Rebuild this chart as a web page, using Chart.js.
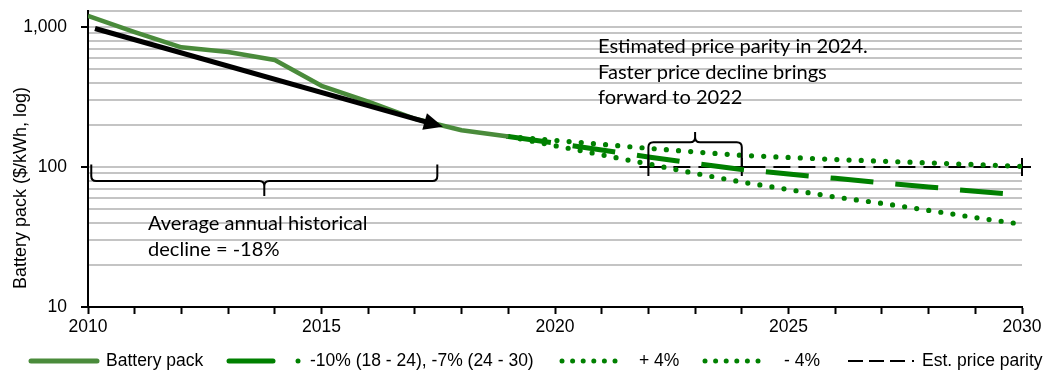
<!DOCTYPE html>
<html>
<head>
<meta charset="utf-8">
<script src="https://cdn.jsdelivr.net/npm/chart.js@4.4.0/dist/chart.umd.min.js"></script>
<style>
  html, body { margin: 0; padding: 0; background: #fff; }
  #wrap { width: 1053px; height: 371px; position: relative; }
</style>
</head>
<body>
<div id="wrap"><canvas id="chart" width="1053" height="371"></canvas></div>
<script>
// Battery pack price history and projections ($/kWh)
const histYears = [2010, 2011, 2012, 2013, 2014, 2015, 2016, 2017, 2018, 2019];
const histPrice = [1200, 920, 715, 663, 580, 380, 293, 221, 183, 165];

const projYears = [2019, 2020, 2021, 2022, 2023, 2024, 2025, 2026, 2027, 2028, 2029, 2030];
const centralPrice = [165, 148, 132, 118, 106, 96, 89, 83, 77, 72, 67, 63];
const upperPrice = [165, 155, 145, 136, 128, 121, 117, 113, 110, 107, 104, 101];
const lowerPrice = [165, 142, 122, 105, 90, 78, 69, 61, 55, 49, 43.5, 39];

const parityYears = [2022, 2024, 2030];
const parityPrice = [100, 100, 100];

const yTicks = [10, 20, 30, 40, 50, 60, 70, 80, 90, 100, 200, 300, 400, 500, 600, 700, 800, 900, 1000, 1300];
const yTickLabels = { 10: '10', 100: '100', 1000: '1,000' };
const xLabelYears = [2010, 2015, 2020, 2025, 2030];

// annotations (data units)
const trendFrom = [2010.15, 975];
const trendTo = [2017.6, 194];
const histBrace = { from: 2010.07, to: 2017.48, bar: 79.5, leg: 104, tip: 62 };
const parityBrace = { from: 2022, to: 2024, bar: 150, leg: 100, tip: 178 };

const noteParity = ['Estimated price parity in 2024.', 'Faster price decline brings', 'forward to 2022'];
const noteHist = ['Average annual historical', 'decline = -18%'];

const legendItems = ['Battery pack', '-10% (18 - 24), -7% (24 - 30)', '+ 4%', '- 4%', 'Est. price parity'];

const BATTERY = '#4a8b3b';
const GREEN = '#008000';

function hasFont(name) {
    const c = document.createElement('canvas').getContext('2d');
    c.font = '40px monospace';
    const a = c.measureText('Battery pack 2015').width;
    c.font = `40px "${name}", monospace`;
    const b = c.measureText('Battery pack 2015').width;
    return a !== b;
}
const narrow = hasFont('Liberation Sans Narrow');
const AX_FAMILY = narrow ? "'Liberation Sans Narrow'" : "'Liberation Sans', Arial";
const AX_SIZE = narrow ? 21 : 17.5;

const pts = (xs, ys) => xs.map((x, i) => ({ x: x, y: ys[i] }));

// Calibri-like notes: fit Lato to the measured widths
function noteFont(ctx) {
    ctx.font = "20px Lato";
    const w = ctx.measureText(noteParity[0]).width;
    return (20 * 270 / w).toFixed(2) + "px Lato";
}

function drawBrace(ctx, x1, x2, yBar, yLeg, yTip) {
    const xm = (x1 + x2) / 2, r = 5;
    const sL = Math.sign(yBar - yLeg), sT = Math.sign(yTip - yBar);
    ctx.beginPath();
    ctx.moveTo(x1, yLeg);
    ctx.lineTo(x1, yBar - sL * r);
    ctx.quadraticCurveTo(x1, yBar, x1 + r, yBar);
    ctx.lineTo(xm - r, yBar);
    ctx.quadraticCurveTo(xm, yBar, xm, yBar + sT * r);
    ctx.lineTo(xm, yTip);
    ctx.moveTo(xm, yBar + sT * r);
    ctx.quadraticCurveTo(xm, yBar, xm + r, yBar);
    ctx.lineTo(x2 - r, yBar);
    ctx.quadraticCurveTo(x2, yBar, x2, yBar - sL * r);
    ctx.lineTo(x2, yLeg);
    ctx.stroke();
}

const annotations = {
    id: 'annotations',
    afterDatasetsDraw(chart) {
        const ctx = chart.ctx, xs = chart.scales.x, ys = chart.scales.y;
        ctx.save();
        // trend arrow
        const x0 = xs.getPixelForValue(trendFrom[0]), y0 = ys.getPixelForValue(trendFrom[1]);
        const x1 = xs.getPixelForValue(trendTo[0]), y1 = ys.getPixelForValue(trendTo[1]);
        const ang = Math.atan2(y1 - y0, x1 - x0), head = 19, half = 8.5;
        const bx = x1 - head * Math.cos(ang), by = y1 - head * Math.sin(ang);
        ctx.strokeStyle = '#000';
        ctx.fillStyle = '#000';
        ctx.lineWidth = 5;
        ctx.lineCap = 'butt';
        ctx.beginPath();
        ctx.moveTo(x0, y0);
        ctx.lineTo(bx + 2 * Math.cos(ang), by + 2 * Math.sin(ang));
        ctx.stroke();
        ctx.beginPath();
        ctx.moveTo(x1, y1);
        ctx.lineTo(bx + half * Math.sin(ang), by - half * Math.cos(ang));
        ctx.lineTo(bx - half * Math.sin(ang), by + half * Math.cos(ang));
        ctx.closePath();
        ctx.fill();

        // braces
        ctx.lineWidth = 2;
        [histBrace, parityBrace].forEach(b => {
            drawBrace(ctx, xs.getPixelForValue(b.from), xs.getPixelForValue(b.to),
                ys.getPixelForValue(b.bar), ys.getPixelForValue(b.leg), ys.getPixelForValue(b.tip));
        });

        // notes
        ctx.font = noteFont(ctx);
        ctx.textBaseline = 'middle';
        ctx.textAlign = 'left';
        noteParity.forEach((t, i) => ctx.fillText(t, 598, 47 + i * 25.5));
        noteHist.forEach((t, i) => ctx.fillText(t, 148, 224 + i * 26));
        ctx.restore();
    },
    afterDraw(chart) {
        const ctx = chart.ctx;
        ctx.save();
        // y axis title
        ctx.font = `${narrow ? 21.5 : 18}px ${AX_FAMILY}`;
        ctx.fillStyle = '#000';
        ctx.textAlign = 'center';
        ctx.textBaseline = 'middle';
        ctx.translate(21, 188);
        ctx.rotate(-Math.PI / 2);
        ctx.fillText('Battery pack ($/kWh, log)', 0, 0);
        ctx.restore();

        // legend
        ctx.save();
        const ly = 361;
        ctx.lineCap = 'round';
        ctx.strokeStyle = BATTERY;
        ctx.lineWidth = 5;
        ctx.beginPath(); ctx.moveTo(31, ly); ctx.lineTo(97, ly); ctx.stroke();
        ctx.strokeStyle = GREEN;
        ctx.beginPath(); ctx.moveTo(229, ly); ctx.lineTo(273, ly); ctx.stroke();
        ctx.fillStyle = GREEN;
        const dot = (x) => { ctx.beginPath(); ctx.arc(x, ly, 2.5, 0, Math.PI * 2); ctx.fill(); };
        dot(298);
        for (let i = 0; i < 6; i++) dot(562 + i * 10.6);
        for (let i = 0; i < 6; i++) dot(705 + i * 10.6);
        ctx.strokeStyle = '#000';
        ctx.lineWidth = 2;
        ctx.lineCap = 'butt';
        [848, 869, 890].forEach(x => { ctx.beginPath(); ctx.moveTo(x, ly); ctx.lineTo(x + 15, ly); ctx.stroke(); });
        ctx.fillStyle = '#000';
        ctx.fillRect(912, ly - 1, 2, 2);

        ctx.font = `${AX_SIZE}px ${AX_FAMILY}`;
        ctx.textBaseline = 'middle';
        ctx.textAlign = 'left';
        const lx = [106, 310, 639, 784, 922];
        legendItems.forEach((t, i) => ctx.fillText(t, lx[i], ly));
        ctx.restore();
    }
};

const axFont = { family: AX_FAMILY, size: AX_SIZE };

new Chart(document.getElementById('chart'), {
    type: 'line',
    data: {
        datasets: [
            { label: legendItems[0], data: pts(histYears, histPrice), borderColor: BATTERY, borderWidth: 4.5,
              pointRadius: 0, borderJoinStyle: 'round' },
            { label: legendItems[1], data: pts(projYears, centralPrice), borderColor: GREEN, borderWidth: 5,
              borderDash: [43, 22], pointRadius: 0 },
            { label: legendItems[2], data: pts(projYears, upperPrice), borderColor: GREEN, borderWidth: 5.2,
              borderDash: [0, 12.2], borderCapStyle: 'round', pointRadius: 0 },
            { label: legendItems[3], data: pts(projYears, lowerPrice), borderColor: GREEN, borderWidth: 5.2,
              borderDash: [0, 12.2], borderCapStyle: 'round', pointRadius: 0 },
            { label: legendItems[4], data: pts(parityYears, parityPrice), borderColor: '#000', borderWidth: 2,
              borderDash: [17, 8], pointStyle: 'cross', pointRadius: 9, pointBorderWidth: 2,
              pointBorderColor: '#000', pointBackgroundColor: '#000', clip: false }
        ]
    },
    options: {
        responsive: false,
        animation: false,
        devicePixelRatio: 1,
        layout: { padding: { left: 0, top: 11, right: 31, bottom: 0 } },
        plugins: { legend: { display: false }, tooltip: { enabled: false } },
        scales: {
            x: {
                type: 'linear', min: 2010, max: 2030,
                afterFit: s => { s.height = 64; },
                ticks: {
                    stepSize: 1, autoSkip: false, maxRotation: 0, padding: 3,
                    color: '#000', font: axFont,
                    callback: v => xLabelYears.includes(v) ? String(v) : ''
                },
                grid: { drawOnChartArea: false, drawTicks: true, tickLength: 7, tickColor: '#000', tickWidth: 2 },
                border: { color: '#000', width: 2 }
            },
            y: {
                type: 'logarithmic', min: 10, max: 1300, bounds: 'data',
                afterFit: s => { s.width = 88; s.paddingTop = 0; s.paddingBottom = 0; },
                afterBuildTicks: s => { s.ticks = yTicks.map(v => ({ value: v })); },
                ticks: {
                    autoSkip: false, padding: 14, color: '#000', font: axFont,
                    callback: v => yTickLabels[v] || ''
                },
                grid: {
                    color: '#c4c4c4', lineWidth: 2, drawTicks: true, tickLength: 7, tickWidth: 2,
                    tickColor: c => (c.tick && yTickLabels[c.tick.value]) ? '#000' : 'rgba(0,0,0,0)'
                },
                border: { color: '#000', width: 2 }
            }
        }
    },
    plugins: [annotations]
});
</script>
</body>
</html>
